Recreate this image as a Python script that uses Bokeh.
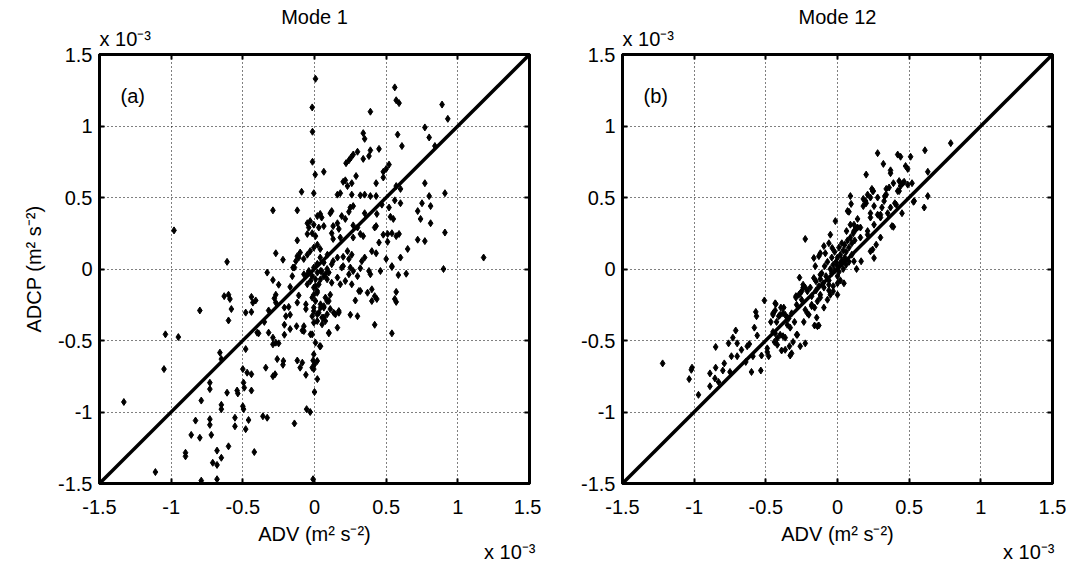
from bokeh.plotting import figure
from bokeh.models import LinearAxis, FixedTicker, Label, Slope, Range1d, Title
from bokeh.layouts import row
from bokeh.embed import file_html
from bokeh.resources import INLINE

FONT = "Liberation Sans"

titles = ["Mode 1", "Mode 12"]
panel_tags = ["(a)", "(b)"]
tick_values = [-1.5, -1, -0.5, 0, 0.5, 1, 1.5]
tick_labels = ["-1.5", "-1", "-0.5", "0", "0.5", "1", "1.5"]
x_label = "ADV (m\u00b2 s\u207b\u00b2)"
y_label = "ADCP (m\u00b2 s\u207b\u00b2)"
scale_text = "x 10\u207b\u00b3"

# Mode 1 scatter (ADV, ADCP) in units of 1e-3 m^2 s^-2
mode1_points = [
    (-0.29, 0.41), (-0.12, 0.41), (-0.98, 0.27), (-0.12, 0.20), (-0.27, 0.11), (-0.22, 0.065),
    (-0.12, 0.09), (-0.61, 0.05), (-0.15, 0.01),
    (0.007, 1.33), (-0.016, 1.13), (0.56, 1.27), (0.57, 1.18), (0.59, 1.16), (0.39, 1.10),
    (0.89, 1.15), (0.93, 1.05), (-0.014, 0.96), (0.34, 0.95), (0.35, 0.91), (0.77, 0.99),
    (0.80, 0.92), (0.58, 0.94), (0.61, 0.86), (0.84, 0.86), (0.45, 0.84), (0.39, 0.83),
    (0.30, 0.82), (0.27, 0.80), (0.255, 0.78), (0.24, 0.76), (0.22, 0.74), (0.34, 0.77),
    (0.38, 0.79), (-0.014, 0.75), (0.065, 0.68), (0.005, 0.66), (0.52, 0.73), (0.50, 0.70),
    (0.48, 0.68), (0.29, 0.65), (0.215, 0.62), (0.20, 0.61), (0.26, 0.60), (0.23, 0.58),
    (0.43, 0.60), (0.48, 0.64), (0.57, 0.58), (0.60, 0.56), (0.77, 0.60), (-0.005, 0.53),
    (-0.09, 0.54), (0.16, 0.52), (0.18, 0.53), (0.26, 0.52), (0.32, 0.515), (0.35, 0.52),
    (0.39, 0.51), (0.43, 0.51), (0.80, 0.51), (0.91, 0.53), (0.47, 0.45), (0.56, 0.48),
    (0.60, 0.46), (0.52, 0.43), (0.75, 0.46), (0.81, 0.44), (0.72, 0.405), (0.25, 0.43),
    (0.24, 0.40), (0.27, 0.44), (0.12, 0.405), (0.11, 0.39), (0.04, 0.385), (0.05, 0.36),
    (0.02, 0.37), (-0.05, 0.32), (-0.03, 0.335), (-0.005, 0.31), (-0.04, 0.29), (0.35, 0.39),
    (0.435, 0.385), (0.19, 0.37), (0.215, 0.35), (0.53, 0.365), (0.55, 0.35), (0.74, 0.35),
    (0.81, 0.32), (0.13, 0.30), (0.16, 0.32), (0.17, 0.28), (0.12, 0.25), (0.27, 0.305),
    (0.30, 0.29), (0.43, 0.30), (0.42, 0.29), (0.03, 0.29), (0.065, 0.30), (-0.05, 0.245),
    (-0.016, 0.25), (0.007, 0.23), (0.91, 0.255), (0.48, 0.24), (0.51, 0.245), (0.59, 0.245),
    (0.57, 0.23), (0.54, 0.25), (0.27, 0.22), (0.34, 0.23), (0.32, 0.245), (0.13, 0.21),
    (0.18, 0.22), (0.72, 0.205), (0.77, 0.195), (0.45, 0.185), (0.51, 0.19), (0.02, 0.17),
    (-0.005, 0.15), (-0.03, 0.125), (0.04, 0.14), (0.65, 0.14), (0.40, 0.125), (0.43, 0.11),
    (0.60, 0.08), (0.50, 0.07), (0.23, 0.125), (0.26, 0.10), (0.20, 0.085), (0.24, 0.07),
    (0.33, 0.055), (0.35, 0.08), (0.13, 0.055), (0.16, 0.08), (1.18, 0.08), (0.54, 0.02),
    (-0.05, 0.10), (-0.075, 0.07), (-0.10, 0.115), (0.04, 0.08), (0.065, 0.045), (0.09, 0.10),
    (0.02, 0.035), (0.20, 0.02), (0.25, 0.01), (0.90, 0.0),
    (-0.13, 0.055), (-0.11, 0.08), (-0.33, -0.025), (-0.155, -0.05), (-0.29, -0.077),
    (-0.25, -0.11), (-0.17, -0.125), (-0.44, -0.195), (-0.41, -0.22), (-0.43, -0.235),
    (-0.28, -0.205), (-0.27, -0.235), (-0.11, -0.185), (-0.48, -0.305), (-0.44, -0.30),
    (-0.32, -0.29), (-0.18, -0.265), (-0.17, -0.32), (-0.20, -0.33), (-0.21, -0.39),
    (-0.125, -0.40), (-0.074, -0.40), (-0.085, -0.43), (-0.40, -0.445), (-0.32, -0.445),
    (-0.29, -0.48), (-0.27, -0.515), (-0.25, -0.52), (-0.48, -0.56), (-0.26, -0.63), (-0.12, -0.64),
    (-0.05, -0.037), (-0.016, -0.05), (0.02, -0.025), (0.05, -0.015), (0.076, -0.037),
    (0.10, -0.025), (0.007, -0.072), (0.03, -0.107), (-0.005, -0.13), (0.019, -0.166),
    (-0.016, -0.20), (0.007, -0.224), (0.042, -0.247), (-0.005, -0.27), (0.03, -0.306),
    (-0.016, -0.33), (0.019, -0.364), (0.053, -0.387), (-0.016, -0.457), (0.007, -0.515),
    (0.037, -0.54), (-0.005, -0.597), (0.019, -0.643), (0.088, -0.072), (0.12, -0.096),
    (0.16, -0.06), (0.18, -0.107), (0.215, -0.084), (0.24, -0.037), (0.27, -0.014),
    (0.30, -0.05), (0.32, 0.005), (0.585, -0.042), (0.64, -0.033), (0.54, 0.014),
    (0.32, -0.154), (0.37, -0.166), (0.40, -0.142), (0.42, -0.19), (0.40, -0.224),
    (0.435, -0.21), (0.285, -0.22), (0.56, -0.21), (0.076, -0.20), (0.10, -0.224),
    (0.065, -0.27), (0.11, -0.28), (0.088, -0.317), (0.146, -0.317), (0.17, -0.294),
    (0.065, -0.34), (0.25, -0.32), (0.30, -0.33), (0.16, -0.41), (0.10, -0.45),
    (0.42, -0.39), (0.54, -0.45),
    (-0.14, 0.01), (-0.27, -0.18), (-0.63, -0.19), (-0.60, -0.18), (-0.59, -0.21),
    (-0.58, -0.28), (-0.60, -0.36), (-0.80, -0.29), (-0.35, -0.37), (-0.21, -0.27),
    (-0.12, -0.235), (-0.39, -0.45), (-0.29, -0.527), (-0.21, -0.46), (-0.17, -0.42),
    (-1.04, -0.457), (-0.95, -0.476), (-0.50, -0.70), (-0.47, -0.725), (-0.44, -0.736),
    (-0.34, -0.69), (-0.29, -0.75), (-0.275, -0.736), (-0.22, -0.67), (-0.217, -0.643),
    (-1.05, -0.70), (-0.66, -0.585), (-0.65, -0.63), (-0.10, -0.69), (-1.33, -0.93),
    (-0.73, -0.84), (-0.61, -0.865), (-0.54, -0.85), (-0.535, -0.87), (-0.44, -0.85),
    (-0.79, -0.92), (-0.65, -0.95), (-0.65, -0.98), (-0.50, -0.96), (-0.495, -0.98),
    (-0.83, -1.06), (-0.73, -1.05), (-0.73, -1.09), (-0.555, -1.04), (-0.555, -1.10),
    (-0.46, -1.056), (-0.48, -1.12), (-0.36, -1.03), (-0.33, -1.04), (-0.86, -1.16),
    (-0.80, -1.18), (-0.72, -1.16), (-0.60, -1.24), (-0.90, -1.285), (-0.90, -1.31),
    (-0.68, -1.27), (-0.65, -1.32), (-0.71, -1.355), (-0.68, -1.37), (-0.42, -1.28),
    (-0.14, -1.08), (-1.11, -1.42), (-0.79, -1.48), (-0.68, -1.47),
    (-0.085, -0.655), (-0.06, -0.74), (-0.01, -0.64), (0.0, -0.667), (-0.016, -0.69),
    (-0.005, -0.70), (0.02, -0.77), (0.0, -0.86), (-0.055, -0.98), (-0.03, -1.0),
    (-0.01, -1.47), (-0.495, -0.795), (-0.49, -0.83), (-0.73, -0.795),
    (-0.074, -0.037), (-0.04, -0.014), (-0.005, 0.01), (0.019, 0.033), (0.042, -0.014),
    (0.065, -0.05), (0.088, 0.0), (0.12, 0.033), (-0.028, -0.084), (-0.05, -0.107),
    (0.007, -0.12), (-0.005, -0.18), (0.019, -0.154), (0.042, -0.072), (-0.06, -0.247),
    (-0.06, -0.28), (-0.005, -0.294), (0.019, -0.317), (0.042, -0.27), (0.065, -0.26),
    (0.088, -0.224), (0.11, -0.18), (0.053, -0.34), (0.076, -0.364), (0.134, -0.306),
    (0.17, -0.306), (0.10, -0.445), (-0.005, -0.375), (-0.074, -0.434), (-0.028, -0.457),
    (0.042, -0.54), (0.19, 0.01), (0.38, -0.014), (0.39, -0.037), (0.46, -0.014),
    (0.26, -0.107), (0.31, -0.154), (0.57, -0.16), (0.57, -0.23),
]

# Mode 12 scatter (ADV, ADCP) in units of 1e-3 m^2 s^-2
mode12_points = [
    (-1.22, -0.66), (-1.035, -0.77), (-1.02, -0.705), (-1.015, -0.69), (-0.97, -0.88),
    (-0.89, -0.82), (-0.89, -0.73), (-0.85, -0.69), (-0.855, -0.765), (-0.85, -0.545),
    (-0.79, -0.66), (-0.80, -0.71), (-0.83, -0.79), (-0.76, -0.52), (-0.74, -0.61),
    (-0.75, -0.72), (-0.73, -0.48), (-0.71, -0.43), (-0.70, -0.52), (-0.70, -0.61),
    (-0.67, -0.565), (-0.64, -0.65), (-0.63, -0.54), (-0.615, -0.525), (-0.59, -0.61),
    (-0.58, -0.41), (-0.60, -0.72), (-0.56, -0.465), (-0.57, -0.30), (-0.565, -0.33),
    (-0.535, -0.71), (-0.53, -0.605), (-0.51, -0.22), (-0.49, -0.555), (-0.48, -0.61),
    (-0.49, -0.58), (-0.465, -0.37), (-0.45, -0.44), (-0.435, -0.29), (-0.43, -0.245),
    (-0.45, -0.32), (-0.41, -0.33), (-0.395, -0.27), (-0.38, -0.31), (-0.365, -0.32),
    (-0.42, -0.53), (-0.39, -0.57), (-0.365, -0.565), (-0.335, -0.54), (-0.32, -0.59),
    (-0.33, -0.605), (-0.31, -0.51), (-0.28, -0.46), (-0.26, -0.54), (-0.225, -0.52),
    (-0.44, -0.51), (-0.42, -0.485), (-0.40, -0.46), (-0.38, -0.47), (-0.35, -0.39),
    (-0.33, -0.41), (-0.34, -0.345), (-0.32, -0.31), (-0.30, -0.37), (-0.285, -0.25),
    (-0.29, -0.20), (-0.27, -0.18), (-0.25, -0.215), (-0.24, -0.13), (-0.21, -0.156),
    (-0.225, -0.285), (-0.20, -0.32), (-0.18, -0.25), (-0.16, -0.27), (-0.14, -0.226),
    (-0.12, -0.18), (-0.145, -0.34), (-0.16, -0.395), (-0.13, -0.395), (-0.095, -0.27),
    (-0.07, -0.215), (-0.05, -0.18), (-0.03, -0.156), (0.0, -0.10), (0.045, -0.10),
    (-0.095, -0.13), (-0.06, -0.11),
    (-0.225, 0.21), (0.09, 0.51), (0.095, 0.455), (0.08, 0.40), (-0.015, 0.335),
    (-0.05, 0.24), (-0.095, 0.16), (-0.12, 0.11), (-0.165, 0.077), (-0.085, 0.11),
    (-0.06, 0.18), (-0.037, 0.147), (-0.265, -0.06), (-0.165, -0.063), (-0.15, -0.086),
    (-0.12, -0.04), (0.133, 0.0), (0.165, 0.054), (0.23, 0.124), (0.27, 0.17), (0.30, 0.22),
    (0.255, 0.077), (0.21, 0.24), (0.16, 0.22), (0.115, 0.265), (0.14, 0.29), (0.09, 0.31),
    (0.063, 0.265), (0.23, 0.39), (0.255, 0.44), (0.30, 0.38), (0.35, 0.39), (0.196, 0.475),
    (0.21, 0.52), (0.245, 0.545), (0.28, 0.50), (0.325, 0.475), (0.34, 0.52), (0.37, 0.43),
    (0.41, 0.45), (0.42, 0.545), (0.455, 0.60), (0.49, 0.59), (0.52, 0.60), (0.535, 0.475),
    (0.605, 0.43), (0.63, 0.51), (0.45, 0.39), (0.38, 0.30),
    (-0.435, -0.24), (-0.375, -0.27), (-0.40, -0.32), (-0.45, -0.31), (-0.425, -0.37),
    (-0.35, -0.34), (-0.285, -0.46), (-0.435, -0.45), (-0.365, -0.48), (-0.235, -0.37),
    (-0.21, -0.31), (-0.18, -0.26), (-0.29, -0.19), (-0.25, -0.156), (-0.225, -0.13),
    (-0.18, -0.19), (-0.12, -0.20), (-0.14, -0.40),
    (-0.10, -0.10), (-0.08, -0.05), (-0.06, -0.08), (-0.05, 0.0), (-0.04, -0.03),
    (-0.03, 0.03), (-0.02, -0.01), (-0.01, 0.05), (0.0, 0.02), (0.0, 0.08), (0.01, -0.02),
    (0.02, 0.04), (0.02, 0.10), (0.03, 0.06), (0.04, 0.13), (0.05, 0.08), (0.05, 0.17),
    (0.06, 0.12), (0.07, 0.20), (0.08, 0.15), (0.09, 0.22), (0.10, 0.18), (0.11, 0.25),
    (0.12, 0.20), (0.13, 0.28), (-0.07, 0.05), (-0.09, 0.02), (-0.11, -0.03), (-0.12, -0.07),
    (0.0, -0.05), (0.02, -0.08), (0.04, 0.0), (0.06, 0.03), (-0.02, 0.12), (-0.04, 0.08),
    (0.03, 0.18), (0.01, 0.15), (0.08, 0.05), (0.10, 0.10), (-0.13, -0.12), (-0.15, -0.15),
    (-0.06, -0.15), (-0.03, -0.12), (0.0, -0.18),
    (0.79, 0.88), (0.61, 0.83), (0.28, 0.81), (0.42, 0.80), (0.44, 0.785), (0.51, 0.785),
    (0.32, 0.735), (0.475, 0.72), (0.49, 0.70), (0.37, 0.69), (0.37, 0.67), (0.63, 0.68),
    (0.20, 0.66), (0.43, 0.615), (0.465, 0.61), (0.39, 0.60), (0.36, 0.57), (0.34, 0.56),
    (0.44, 0.58), (0.43, 0.545), (0.24, 0.56), (0.25, 0.545), (0.23, 0.50), (0.18, 0.49),
    (0.20, 0.46), (0.33, 0.51), (0.31, 0.43), (0.40, 0.46), (0.53, 0.47), (0.39, 0.295),
    (0.28, 0.38), (0.23, 0.36), (0.18, 0.44), (0.14, 0.35), (0.115, 0.31), (0.16, 0.29),
    (0.21, 0.265), (0.255, 0.31), (0.30, 0.36),
    (0.07, 0.405), (-0.13, 0.09), (-0.155, 0.02), (-0.24, -0.11), (-0.26, -0.17),
    (-0.19, -0.13), (0.115, 0.054), (0.245, 0.136),
]

FRAME_W = 430
FRAME_H = 429
PX = 3.0 / FRAME_W
PY = 3.0 / FRAME_H


def style_axis(ax, show_labels=True):
    ax.ticker = FixedTicker(ticks=tick_values)
    ax.major_label_overrides = {v: s for v, s in zip(tick_values, tick_labels)}
    ax.major_tick_in = 5
    ax.major_tick_out = 0
    ax.major_tick_line_width = 2
    ax.major_tick_line_color = "black"
    ax.minor_tick_line_color = None
    ax.axis_line_width = 3
    ax.axis_line_color = "black"
    ax.major_label_text_font = FONT
    ax.axis_label_text_font = FONT
    ax.axis_label_text_font_style = "normal"
    ax.axis_label_text_color = "black"
    ax.axis_label_text_font_size = "20px"
    if show_labels:
        ax.major_label_text_font_size = "20px"
        ax.major_label_text_color = "black"
    else:
        ax.major_label_text_font_size = "1px"
        ax.major_label_text_color = None
        ax.major_label_standoff = 0


def make_title(text, align, standoff, offset=0):
    return Title(text=text, align=align, standoff=standoff, offset=offset,
                 text_font=FONT, text_font_size="20px", text_font_style="normal",
                 text_color="black")


def make_panel(points, title, tag, left_border, right_border, ylabel, scale_offset):
    p = figure(frame_width=FRAME_W, frame_height=FRAME_H,
               min_border_left=left_border, min_border_right=right_border,
               min_border_top=54, min_border_bottom=80,
               x_range=Range1d(-1.5, 1.5), y_range=Range1d(-1.5, 1.5),
               output_backend="svg", toolbar_location=None,
               background_fill_color="white", border_fill_color="white")
    p.outline_line_color = "black"
    p.outline_line_width = 3

    style_axis(p.xaxis[0])
    style_axis(p.yaxis[0])
    p.xaxis.major_label_standoff = 16
    p.yaxis.major_label_standoff = 7
    p.xaxis.axis_label = x_label
    p.xaxis.axis_label_standoff = 6
    if ylabel:
        p.yaxis.axis_label = y_label
        p.yaxis.axis_label_standoff = 10

    top = LinearAxis()
    style_axis(top, show_labels=False)
    p.add_layout(top, "above")
    right = LinearAxis()
    style_axis(right, show_labels=False)
    p.add_layout(right, "right")

    p.add_layout(make_title(scale_text, "left", 10, 0), "above")
    p.add_layout(make_title(title, "center", -14), "above")
    p.add_layout(make_title(scale_text, "right", -18, scale_offset), "below")

    p.grid.ticker = FixedTicker(ticks=tick_values)
    p.grid.grid_line_color = "black"
    p.grid.grid_line_dash = "1 3"
    p.grid.grid_line_width = 1

    p.add_layout(Slope(gradient=1, y_intercept=0, line_color="black", line_width=3.5))

    xs = [pt[0] for pt in points]
    ys = [pt[1] for pt in points]
    p.scatter(xs, ys, marker="diamond", size=7, color="black")

    p.add_layout(Label(x=-1.5 + 21 * PX, y=1.5 - 41 * PY, text=tag, text_font=FONT,
                       text_font_size="20px", text_color="black",
                       text_align="left", text_baseline="middle"))
    return p


p1 = make_panel(mode1_points, titles[0], panel_tags[0], 99, 12, True, -6)
p2 = make_panel(mode12_points, titles[1], panel_tags[1], 81, 14, False, -2)

layout = row(p1, p2, spacing=0)
open("out.html", "w").write(file_html(layout, INLINE))
